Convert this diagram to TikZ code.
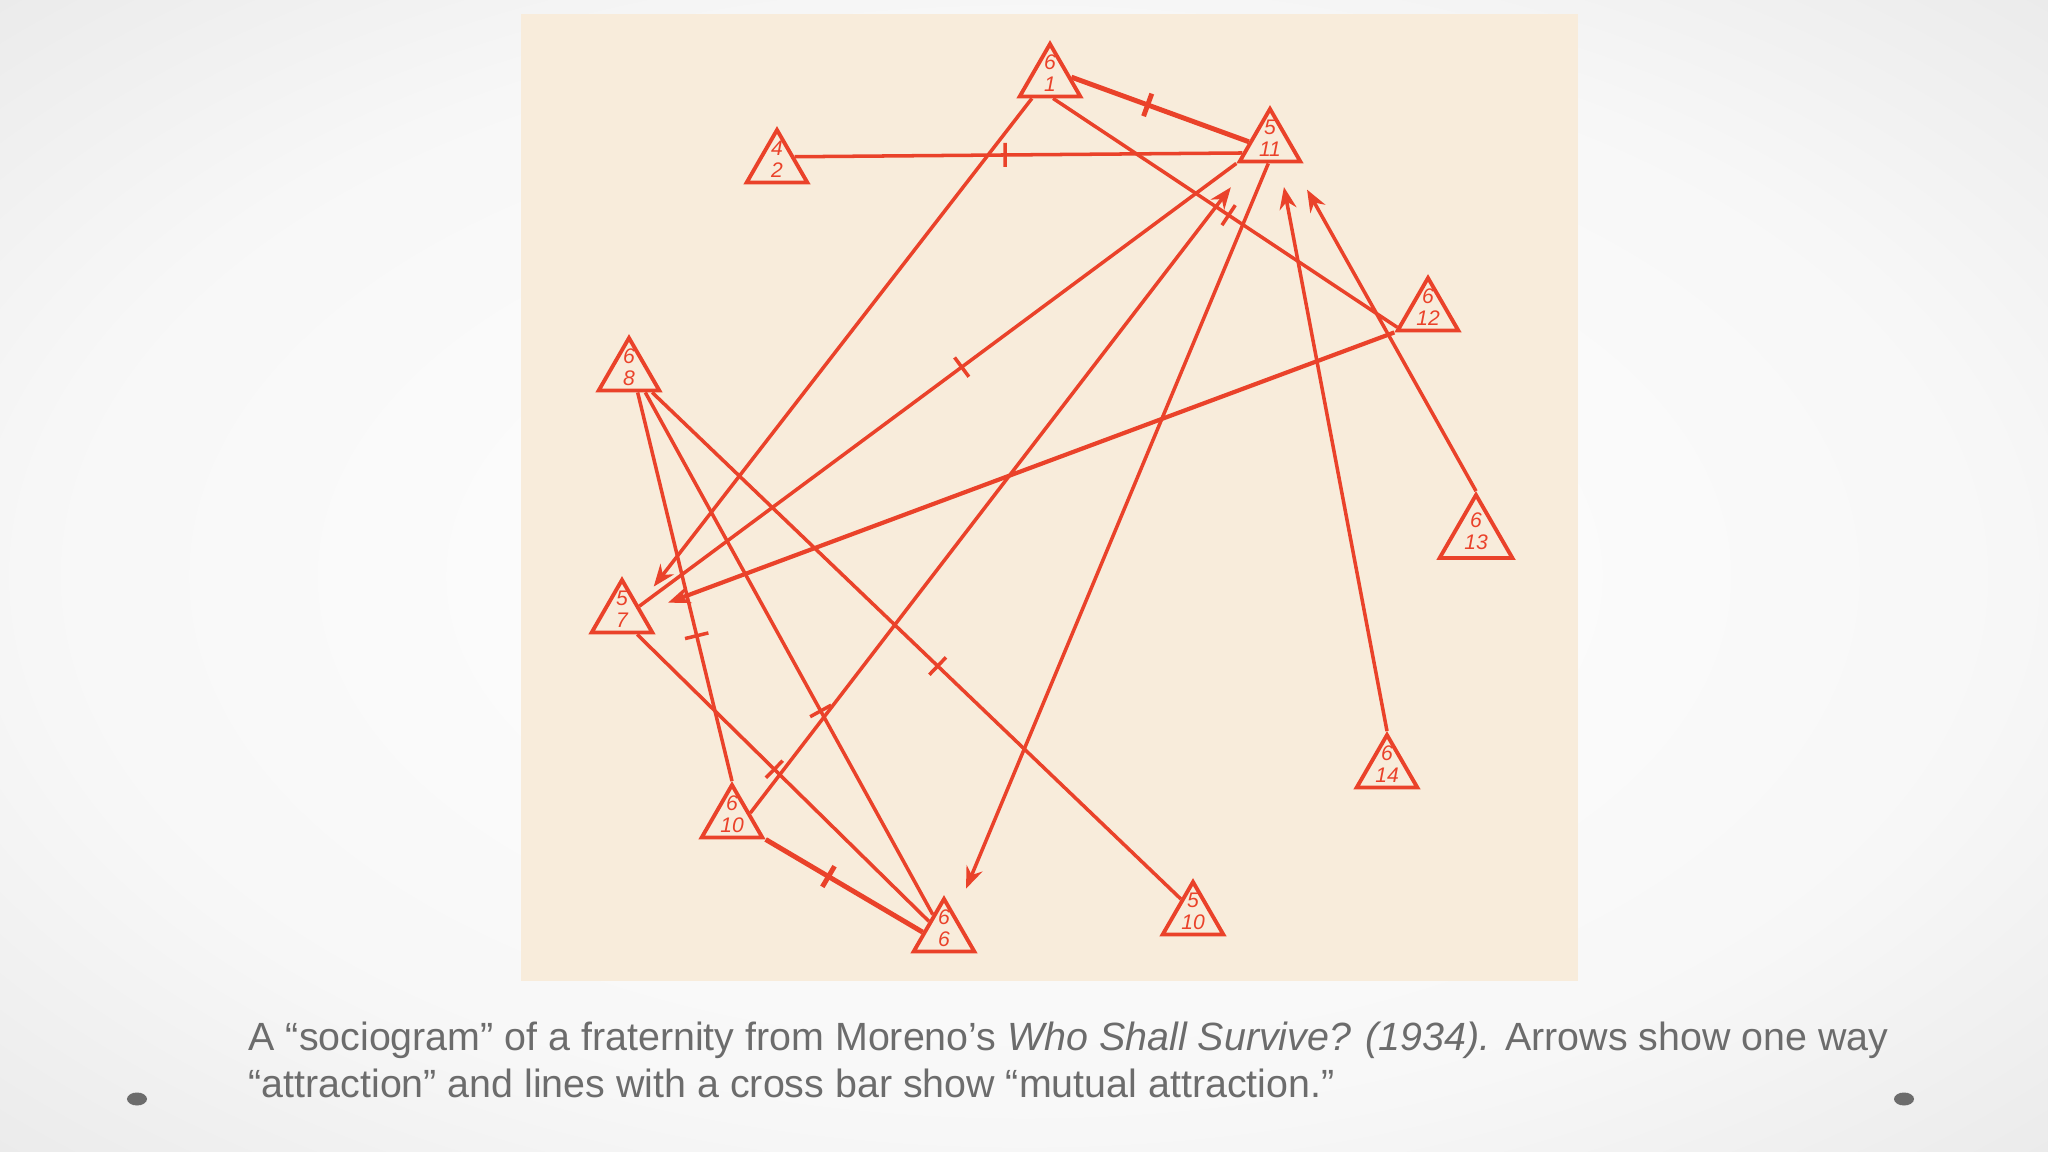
\documentclass[tikz,border=0pt]{standalone}
\usepackage{fontspec}
\setmainfont{Liberation Sans}
\usetikzlibrary{arrows.meta,shapes.geometric}
\definecolor{pencil}{RGB}{234,66,42}
\definecolor{paper}{RGB}{248,236,219}
\definecolor{capgray}{RGB}{108,108,108}
\pgfdeclareradialshading{slidebg}{\pgfpoint{0bp}{0bp}}{color(0bp)=(white); color(24bp)=(white!97!black); color(50bp)=(white!86!black)}
% one member of the fraternity: name, centre, top digit, bottom digit
\newcommand\member[5][]{%
  \node[member,#1] (#2) at (#3) {};
  \node[digits] (#2-no) at ([yshift=0.06cm]#2.center) {#4\\#5};}

\begin{document}
\begin{tikzpicture}[x=0.01cm,y=-0.01cm,
    member/.style={regular polygon, regular polygon sides=3, draw=pencil, line width=1.1pt,
                   minimum size=0.70cm, inner sep=0pt},
    digits/.style={font=\fontsize{6}{6.2}\selectfont\itshape, text=pencil, align=center, inner sep=0pt},
    tie/.style={draw=pencil, line width=1pt},
    heavy/.style={line width=1.4pt},
    choice/.style={draw=pencil, line width=1pt, -{Stealth[length=0.22cm,width=0.17cm]}},
    bar/.style={draw=pencil, sloped, minimum width=0pt, minimum height=0.24cm, inner sep=0pt, outer sep=0pt}]
    \useasboundingbox (0,0) rectangle (2048,1152);
    \shade[shading=slidebg] (0,0) rectangle (2048,1152);
    \fill[paper] (521,14) rectangle (1578,981);

    % members
    \member{t61}{1050,79}{6}{1}
    \member{t42}{777,165}{4}{2}
    \member{t511}{1270,144}{5}{11}
    \member{t612}{1428,313}{6}{12}
    \member{t68}{629,373}{6}{8}
    \member{t57}{622,615}{5}{7}
    \member[minimum size=0.84cm]{t613}{1476,537}{6}{13}
    \member{t614}{1387,770}{6}{14}
    \member{t610}{732,820}{6}{10}
    \member{t66}{944,934}{6}{6}
    \member{t510}{1193,917}{5}{10}

    % mutual attraction
    \draw[tie,heavy] (t61.5) -- node[bar,pos=0.43] (b1) {} (t511.174);
    \draw[tie] (t42.25) -- node[bar,pos=0.47] (b2) {} (t511.198);
    \draw[tie] (t61.-81) -- node[bar,pos=0.51] (b3) {} (t612.205);
    \draw[tie] (t57.27) -- node[bar,pos=0.54] (b4) {} (t511.corner 2);
    \draw[tie] (t68.-66) -- node[bar,pos=0.626] (b5) {} (t610.corner 1);
    \draw[tie] (t68.-50) -- node[bar,pos=0.61] (b6) {} (t66.120);
    \draw[tie] (t68.-40) -- node[bar,pos=0.54] (b7) {} (t510.124);
    \draw[tie] (t57.-52) -- node[bar,pos=0.47] (b8) {} (t66.140);
    \draw[tie,heavy] (t610.corner 3) -- node[bar,pos=0.40] (b9) {} (t66.175);

    % one way attraction
    \draw[choice,shorten >=0.24cm] (t61.227) -- (t57.29);
    \draw[choice,line width=1.2pt,shorten >=0.27cm] (t612.corner 2) -- (t57.8);
    \draw[choice,shorten >=0.30cm] (t610.21) -- (t511.223);
    \draw[choice,shorten >=0.28cm] (t511.265) -- (t66.60);
    \draw[choice,shorten >=0.24cm] (t614.corner 1) -- (t511.-64);
    \draw[choice,shorten >=0.30cm] (t613.corner 1) -- (t511.-41);

    % caption
    \node[anchor=base west, align=left, inner sep=0pt, text=capgray,
          font=\fontsize{11.2}{13.1}\selectfont] (caption) at (248,1097)
      {A “sociogram” of a fraternity from Moreno’s \textit{Who Shall Survive? (1934).} Arrows show one way\\
       “attraction” and lines with a cross bar show “mutual attraction.”};
    \fill[capgray] (137,1099) ellipse [x radius=0.1cm, y radius=0.065cm];
    \fill[capgray] (1904,1099) ellipse [x radius=0.1cm, y radius=0.065cm];
\end{tikzpicture}
\end{document}
